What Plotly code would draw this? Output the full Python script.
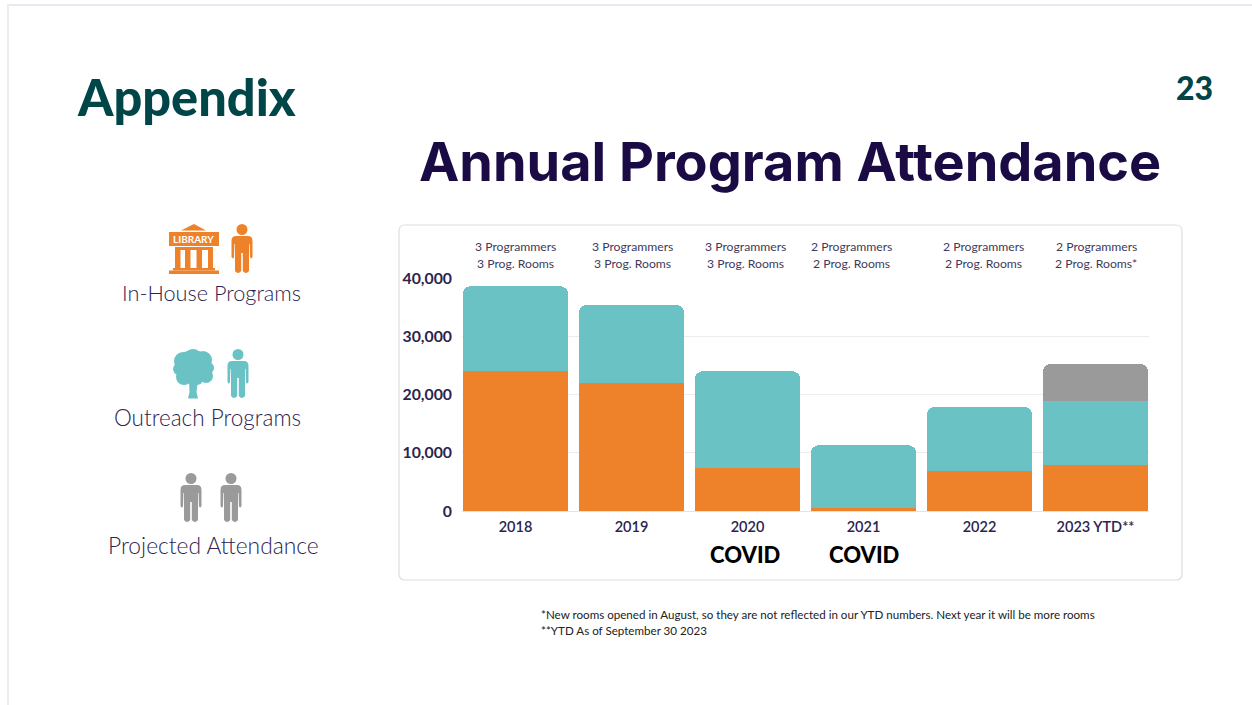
import plotly.graph_objects as go

W, H = 1252, 705

years = ["2018", "2019", "2020", "2021", "2022", "2023 YTD**"]
in_house = [24000, 22000, 7350, 550, 6950, 7850]
outreach = [14600, 13350, 16650, 10750, 10900, 11050]
projected = [None, None, None, None, None, 6350]
y_ticks = [0, 10000, 20000, 30000, 40000]
staff_line1 = ["3 Programmers", "3 Programmers", "3 Programmers", "2 Programmers", "2 Programmers", "2 Programmers"]
staff_line2 = ["3 Prog. Rooms", "3 Prog. Rooms", "3 Prog. Rooms", "2 Prog. Rooms", "2 Prog. Rooms", "2 Prog. Rooms*"]
staff_px = [515, 632, 745, 851, 983, 1096]
covid_labels = ["COVID", "COVID"]
covid_px = [745, 864]
footnotes = ["*New rooms opened in August, so they are not reflected in our YTD numbers. Next year it will be more rooms",
             "**YTD As of September 30 2023"]

ORANGE, TEAL, GRAY = "#EE822B", "#6BC2C4", "#9A9A9A"
NAVY = "#2B2450"
GREEN = "#004548"
BODY = "Lato"


def px(x):
    return x / W


def py(y):
    return 1 - y / H


def path(cmds):
    """cmds: list of (letter, x, y, ...) in pixel coordinates."""
    out = []
    for c in cmds:
        if c[0] == "Z":
            out.append("Z")
            continue
        nums = c[1:]
        pts = [f"{px(nums[i]):.5f},{py(nums[i+1]):.5f}" for i in range(0, len(nums), 2)]
        out.append(c[0] + " " + " ".join(pts))
    return " ".join(out)


shapes = []


def add_path(cmds, color, layer="above"):
    shapes.append(dict(type="path", xref="paper", yref="paper", path=path(cmds),
                       fillcolor=color, line=dict(width=0), layer=layer))


def add_circle(cx, cy, r, color):
    shapes.append(dict(type="circle", xref="paper", yref="paper",
                       x0=px(cx - r), x1=px(cx + r), y0=py(cy + r), y1=py(cy - r),
                       fillcolor=color, line=dict(width=0), layer="above"))


def add_rect(x0, y0, x1, y1, color):
    shapes.append(dict(type="rect", xref="paper", yref="paper",
                       x0=px(x0), x1=px(x1), y0=py(y1), y1=py(y0),
                       fillcolor=color, line=dict(width=0), layer="above"))


def person(cx, top, color):
    add_circle(cx, top + 5.5, 5.5, color)
    t = top
    pts = [
        ("M", -6, 12), ("L", 6, 12), ("Q", 10.5, 12, 10.5, 17), ("L", 10.5, 33), ("Q", 9, 36, 8, 33),
        ("L", 7.6, 20), ("L", 7, 20), ("L", 7, 47), ("Q", 4, 51, 0.8, 47), ("L", 0.8, 29), ("L", -0.8, 29),
        ("L", -0.8, 47), ("Q", -4, 51, -7, 47), ("L", -7, 20), ("L", -7.6, 20), ("L", -8, 33),
        ("Q", -9, 36, -10.5, 33), ("L", -10.5, 17), ("Q", -10.5, 12, -6, 12),
    ]
    cmds = []
    for p in pts:
        vals = p[1:]
        conv = []
        for i in range(0, len(vals), 2):
            conv += [cx + vals[i], t + vals[i + 1]]
        cmds.append((p[0], *conv))
    cmds.append(("Z",))
    add_path(cmds, color)


# page edge
add_rect(8, 4, W, 6, "#E9E9F1")
add_rect(7, 4, 9, H, "#ECECF2")

# chart card
r = 6
shapes.append(dict(type="path", xref="paper", yref="paper", layer="below", fillcolor="white",
                   line=dict(color="#DEDEDE", width=1.2),
                   path=path([("M", 399 + r, 225), ("L", 1182 - r, 225), ("Q", 1182, 225, 1182, 225 + r),
                              ("L", 1182, 580 - r), ("Q", 1182, 580, 1182 - r, 580), ("L", 399 + r, 580),
                              ("Q", 399, 580, 399, 580 - r), ("L", 399, 225 + r), ("Q", 399, 225, 399 + r, 225), ("Z",)])))

# library icon
add_path([("M", 194, 224), ("L", 206, 230.5), ("L", 181, 230.5), ("Z",)], ORANGE)
add_rect(169, 232, 219, 246, ORANGE)
add_rect(175, 247, 213, 250, ORANGE)
for a, b in [(175, 180.5), (185, 190.5), (196.5, 202), (208, 213)]:
    add_rect(a, 250, b, 268, ORANGE)
add_rect(173, 268, 215, 270.5, ORANGE)
add_rect(169, 270.5, 219, 274, ORANGE)
person(242, 224, ORANGE)

# tree icon
for cx, cy, rad in [(193, 367, 17), (183, 361, 9), (193, 357, 8), (203, 360, 9), (208, 368, 6),
                    (206, 376, 7), (197, 379, 6), (184, 377, 8), (179, 369, 6)]:
    add_circle(cx, cy, rad, TEAL)
add_path([("M", 189, 380), ("L", 198, 380), ("L", 196.5, 392), ("L", 198, 398.5), ("L", 188, 398.5),
          ("L", 189.5, 392), ("Z",)], TEAL)
person(238, 349, TEAL)

# projected attendance icon
person(191, 473, GRAY)
person(231, 473, GRAY)

fig = go.Figure()
fig.add_bar(x=years, y=in_house, marker=dict(color=ORANGE, line=dict(width=0)), name="In-House Programs")
fig.add_bar(x=years, y=outreach, marker=dict(color=TEAL, line=dict(width=0)), name="Outreach Programs")
fig.add_bar(x=years, y=projected, marker=dict(color=GRAY, line=dict(width=0)), name="Projected Attendance")


def text(x, y, s, size, color=NAVY, family=BODY, anchor="center", weight=None):
    return dict(x=px(x), y=py(y), xref="paper", yref="paper", text=s, showarrow=False,
                xanchor=anchor, yanchor="middle",
                font=dict(size=size, color=color, family=family, weight=weight))


ann = [
    text(75, 97, "Appendix", 50.5, GREEN, "Lato", "left", 900),
    text(1194, 88, "23", 32, GREEN, "Lato", "center", 900),
    text(790, 161, "Annual Program Attendance", 54, "#1B0B45", "Inter", "center", 700),
    text(194, 239, "LIBRARY", 10, "white", "Lato", "center", 700),
    text(211, 293, "In-House Programs", 21.7, weight=300),
    text(207, 417, "Outreach Programs", 22.5, weight=300),
    text(213, 545, "Projected Attendance", 22.8, weight=300),
]
for xp, a, b in zip(staff_px, staff_line1, staff_line2):
    ann.append(text(xp, 246, a, 12.2, "#3F3A5C"))
    ann.append(text(xp, 263, b, 12.2, "#3F3A5C"))
for xp, s in zip(covid_px, covid_labels):
    ann.append(text(xp, 554, s, 22, "#000000", "Lato", "center", 900))
ann.append(text(539, 614, footnotes[0], 11.6, "#222222", anchor="left"))
ann.append(text(539, 630, footnotes[1], 11.6, "#222222", anchor="left"))

fig.update_layout(
    width=W, height=H, autosize=False, margin=dict(l=0, r=0, t=0, b=0, pad=0),
    paper_bgcolor="white", plot_bgcolor="rgba(0,0,0,0)",
    barmode="stack", bargap=0.09, barcornerradius=8, showlegend=False,
    shapes=shapes, annotations=ann,
    xaxis=dict(domain=[462 / W, 1149 / W], type="category", categoryorder="array", categoryarray=years,
               range=[-0.461, 5.461], showgrid=False, zeroline=False, showline=True, linecolor="#E2E2EA", linewidth=1,
               automargin=False, ticks="", ticklabelstandoff=3,
               tickfont=dict(size=14.5, color=NAVY, family=BODY, weight=600)),
    yaxis=dict(domain=[(H - 511) / H, (H - 278) / H], range=[0, 40000], tickvals=y_ticks, tickformat=",",
               showgrid=True, gridcolor="#EBEBF0", gridwidth=1, zeroline=False, showline=False,
               automargin=False, ticks="", ticklabelstandoff=9,
               tickfont=dict(size=15.8, color=NAVY, family=BODY, weight=700)),
)
fig.write_html("out.html", post_script="document.body.style.margin='0';", config={"displayModeBar": False})
